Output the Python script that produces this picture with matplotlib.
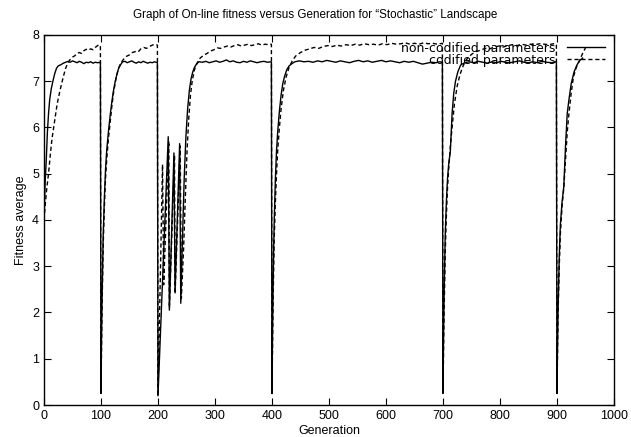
import matplotlib
matplotlib.use('Agg')
import matplotlib.pyplot as plt

plt.rcParams['font.family'] = ['Liberation Sans', 'DejaVu Sans']

# non-codified parameters (solid line), one list per restart of the run
nc_gen_1 = [0, 2, 4, 6, 8, 10, 13, 16, 19, 22, 25, 30, 34, 38, 42, 46, 50, 54, 58, 62, 66, 70, 74, 78, 82, 86,
            90, 94, 99]
nc_fit_1 = [4.0, 4.8, 5.3, 5.9, 6.3, 6.6, 6.85, 7.02, 7.17, 7.28, 7.33, 7.36, 7.39, 7.41, 7.43, 7.41, 7.44, 7.42,
            7.40, 7.43, 7.41, 7.38, 7.41, 7.40, 7.42, 7.39, 7.41, 7.40, 7.41]
nc_gen_2 = [100, 101, 102, 103, 104, 106, 108, 110, 113, 116, 119, 122, 125, 128, 131, 134, 138, 142, 146, 150,
            154, 158, 162, 166, 170, 174, 178, 182, 186, 190, 194, 199]
nc_fit_2 = [0.25, 1.5, 2.4, 3.1, 3.7, 4.5, 5.1, 5.5, 5.9, 6.25, 6.55, 6.8, 7.0, 7.15, 7.28, 7.35, 7.42, 7.43, 7.40,
            7.42, 7.44, 7.41, 7.39, 7.42, 7.40, 7.43, 7.41, 7.39, 7.41, 7.40, 7.42, 7.40]
nc_gen_3 = [200, 218, 220, 228, 230, 238, 240, 243, 246, 249, 252, 255, 258, 261, 264, 268, 272, 278, 284, 290,
            296, 302, 308, 314, 320, 326, 332, 338, 344, 350, 356, 362, 368, 374, 380, 386, 392, 399]
nc_fit_3 = [0.2, 5.8, 2.05, 5.45, 2.45, 5.65, 2.2, 3.6, 4.9, 5.8, 6.4, 6.8, 7.05, 7.2, 7.3, 7.38, 7.42, 7.41,
            7.43, 7.40, 7.42, 7.44, 7.41, 7.43, 7.46, 7.42, 7.44, 7.41, 7.40, 7.43, 7.41, 7.44, 7.42, 7.40, 7.42,
            7.43, 7.41, 7.42]
nc_gen_4 = [400, 401, 402, 403, 404, 406, 408, 410, 413, 416, 419, 422, 426, 430, 435, 440, 448, 456, 464, 472,
            480, 488, 496, 504, 512, 520, 528, 536, 544, 552, 560, 568, 576, 584, 592, 600, 608, 616, 624, 632,
            640, 648, 656, 664, 672, 680, 688, 694, 699]
nc_fit_4 = [0.25, 1.6, 2.6, 3.4, 4.0, 4.9, 5.5, 5.9, 6.35, 6.7, 6.95, 7.1, 7.25, 7.33, 7.38, 7.42, 7.44, 7.42,
            7.43, 7.41, 7.44, 7.42, 7.45, 7.43, 7.41, 7.44, 7.42, 7.40, 7.43, 7.45, 7.42, 7.44, 7.41, 7.43, 7.45,
            7.42, 7.44, 7.42, 7.40, 7.43, 7.41, 7.43, 7.40, 7.37, 7.39, 7.41, 7.40, 7.42, 7.41]
nc_gen_5 = [700, 701, 702, 703, 704, 706, 708, 710, 713, 716, 719, 722, 726, 731, 738, 746, 754, 762, 770, 778,
            786, 794, 802, 810, 818, 826, 834, 842, 850, 858, 866, 874, 882, 890, 899]
nc_fit_5 = [0.25, 1.5, 2.4, 3.1, 3.7, 4.4, 4.9, 5.2, 5.5, 6.3, 6.75, 7.0, 7.2, 7.35, 7.40, 7.42, 7.40, 7.43, 7.41,
            7.39, 7.42, 7.40, 7.43, 7.41, 7.40, 7.42, 7.44, 7.41, 7.40, 7.42, 7.40, 7.43, 7.41, 7.40, 7.42]
nc_gen_6 = [900, 901, 902, 904, 906, 909, 912, 915, 918, 921, 925, 930, 935, 940, 945]
nc_fit_6 = [0.25, 1.3, 2.1, 3.2, 3.9, 4.4, 4.72, 5.6, 6.3, 6.6, 6.95, 7.2, 7.35, 7.45, 7.5]

# codified parameters (dashed line)
c_gen_1 = [0, 2, 5, 8, 11, 14, 17, 20, 23, 26, 30, 34, 38, 42, 46, 50, 54, 58, 62, 66, 70, 74, 78, 82, 86, 90,
           94, 97, 99]
c_fit_1 = [4.0, 4.3, 4.7, 5.0, 5.4, 5.75, 6.0, 6.25, 6.5, 6.68, 6.9, 7.1, 7.28, 7.4, 7.47, 7.52, 7.55, 7.6, 7.62,
           7.6, 7.66, 7.69, 7.67, 7.7, 7.68, 7.73, 7.77, 7.79, 7.76]
c_gen_2 = [100, 101, 102, 103, 104, 106, 108, 110, 113, 116, 119, 122, 126, 130, 135, 140, 145, 150, 155, 160,
           165, 170, 175, 180, 185, 190, 195, 199]
c_fit_2 = [0.25, 1.3, 2.2, 2.9, 3.5, 4.3, 4.9, 5.3, 5.75, 6.1, 6.45, 6.75, 7.03, 7.25, 7.4, 7.48, 7.54, 7.57,
           7.62, 7.64, 7.63, 7.7, 7.73, 7.71, 7.75, 7.78, 7.8, 7.78]
c_gen_3 = [200, 208, 210, 219, 220, 229, 230, 239, 241, 245, 248, 251, 254, 257, 260, 264, 269, 274, 280, 286,
           292, 298, 304, 310, 316, 322, 328, 334, 340, 346, 352, 358, 364, 370, 376, 382, 388, 394, 399]
c_fit_3 = [0.2, 5.2, 2.6, 5.7, 2.1, 5.4, 2.4, 5.6, 2.3, 3.4, 4.5, 5.5, 6.2, 6.7, 7.0, 7.25, 7.4, 7.5, 7.56, 7.6,
           7.65, 7.68, 7.72, 7.71, 7.74, 7.76, 7.74, 7.77, 7.79, 7.76, 7.78, 7.8, 7.77, 7.79, 7.81, 7.78, 7.8,
           7.79, 7.8]
c_gen_4 = [400, 401, 402, 403, 404, 406, 408, 410, 413, 416, 420, 425, 430, 436, 442, 450, 458, 466, 474, 482,
           490, 498, 506, 514, 522, 530, 538, 546, 554, 562, 570, 578, 586, 594, 602, 610, 618, 626, 634, 642,
           650, 658, 666, 674, 682, 690, 699]
c_fit_4 = [0.25, 1.3, 2.3, 3.0, 3.6, 4.4, 5.0, 5.5, 6.0, 6.4, 6.8, 7.1, 7.3, 7.45, 7.55, 7.62, 7.67, 7.7, 7.73,
           7.71, 7.75, 7.77, 7.75, 7.78, 7.76, 7.79, 7.77, 7.8, 7.78, 7.81, 7.79, 7.8, 7.78, 7.81, 7.79, 7.82,
           7.8, 7.81, 7.83, 7.8, 7.82, 7.8, 7.83, 7.81, 7.82, 7.8, 7.82]
c_gen_5 = [700, 701, 702, 703, 704, 706, 708, 710, 713, 716, 720, 725, 730, 736, 742, 750, 758, 766, 774, 782,
           790, 798, 806, 814, 822, 830, 838, 846, 854, 862, 870, 878, 886, 894, 899]
c_fit_5 = [0.25, 1.2, 2.0, 2.7, 3.3, 4.1, 4.7, 5.1, 5.6, 6.0, 6.5, 6.9, 7.15, 7.35, 7.48, 7.58, 7.64, 7.67, 7.71,
           7.7, 7.74, 7.76, 7.74, 7.77, 7.79, 7.77, 7.8, 7.78, 7.8, 7.79, 7.81, 7.8, 7.79, 7.81, 7.8]
c_gen_6 = [900, 901, 902, 904, 906, 909, 912, 915, 918, 921, 925, 929, 934, 940, 945, 950]
c_fit_6 = [0.25, 1.2, 2.0, 3.0, 3.7, 4.3, 4.7, 5.3, 5.9, 6.3, 6.75, 7.1, 7.3, 7.46, 7.6, 7.72]

noncod_gen = nc_gen_1 + nc_gen_2 + nc_gen_3 + nc_gen_4 + nc_gen_5 + nc_gen_6
noncod_fit = nc_fit_1 + nc_fit_2 + nc_fit_3 + nc_fit_4 + nc_fit_5 + nc_fit_6
cod_gen = c_gen_1 + c_gen_2 + c_gen_3 + c_gen_4 + c_gen_5 + c_gen_6
cod_fit = c_fit_1 + c_fit_2 + c_fit_3 + c_fit_4 + c_fit_5 + c_fit_6

fig = plt.figure(figsize=(6.31, 4.37), dpi=100)
ax = fig.add_axes([0.0697, 0.0732, 0.9033, 0.8468])

ax.plot(noncod_gen, noncod_fit, color='black', lw=1.0, ls='-', label='non-codified parameters')
ax.plot(cod_gen, cod_fit, color='black', lw=1.0, ls=(0, (3, 2)), label='codified parameters')

ax.set_xlim(0, 1000)
ax.set_ylim(0, 8)
ax.set_xticks(range(0, 1001, 100))
ax.set_yticks(range(0, 9))
ax.tick_params(direction='in', top=True, right=True, length=5, labelsize=9, width=0.8)
for s in ax.spines.values():
    s.set_linewidth(1.0)

fig.suptitle('Graph of On-line fitness versus Generation for \u201cStochastic\u201d Landscape',
             x=0.5, y=0.966, va='center', fontsize=8.4)
ax.set_xlabel('Generation', fontsize=9, labelpad=2)
ax.set_ylabel('Fitness average', fontsize=9, labelpad=4)

leg = ax.legend(loc='upper right', bbox_to_anchor=(0.984, 0.982), frameon=False, markerfirst=False,
                prop={'family': 'DejaVu Sans', 'size': 9}, handlelength=3.0, handletextpad=0.95,
                labelspacing=-0.08, borderpad=0, borderaxespad=0)

fig.savefig('out.png', dpi=100)
